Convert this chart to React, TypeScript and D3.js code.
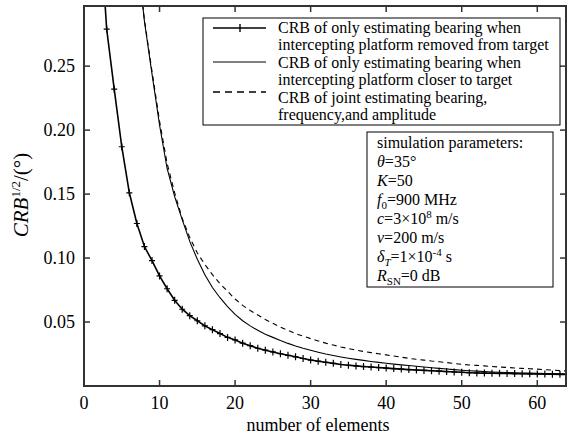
import * as d3 from "d3";

// axes
const xTicks = [0, 10, 20, 30, 40, 50, 60];
const yTicks = [0.05, 0.1, 0.15, 0.2, 0.25];
const yTickLabels = ["0.05", "0.10", "0.15", "0.20", "0.25"];

// CRB^(1/2) per number of elements, first value belongs to N = *Start
const removedStart = 2;
const removedCrb = [
  0.37, 0.279, 0.232, 0.187, 0.151, 0.127, 0.109, 0.098, 0.086, 0.076,
  0.067, 0.06, 0.055, 0.051, 0.047, 0.044, 0.041, 0.038, 0.036, 0.0335,
  0.0315, 0.0295, 0.028, 0.0266, 0.0252, 0.024, 0.0228, 0.0215, 0.0203, 0.0194,
  0.0185, 0.0177, 0.0168, 0.0162, 0.0157, 0.0152, 0.0148, 0.0144, 0.014, 0.0136,
  0.0132, 0.0128, 0.0125, 0.0122, 0.0119, 0.0116, 0.0113, 0.011, 0.0107, 0.0104,
  0.0102, 0.0101, 0.01, 0.0099, 0.0098, 0.0097, 0.0096, 0.0095, 0.0094, 0.0093,
  0.0092, 0.0091, 0.009,
];

const closerStart = 7;
const closerCrb = [
  0.34, 0.285, 0.244, 0.204, 0.17, 0.148, 0.13, 0.113, 0.099, 0.087,
  0.077, 0.069, 0.062, 0.056, 0.051, 0.047, 0.0435, 0.0405, 0.038, 0.0355,
  0.0333, 0.0313, 0.0295, 0.0279, 0.0264, 0.025, 0.0238, 0.0227, 0.0217, 0.0208,
  0.02, 0.0192, 0.0185, 0.0178, 0.0171, 0.0165, 0.016, 0.0154, 0.0148, 0.0143,
  0.0138, 0.0133, 0.0128, 0.0123, 0.0119, 0.0116, 0.0113, 0.011, 0.0108, 0.0106,
  0.0104, 0.0102, 0.0101, 0.0099, 0.0098, 0.0097, 0.0096, 0.0095,
];

const jointStart = 7;
const jointCrb = [
  0.34, 0.286, 0.246, 0.207, 0.174, 0.151, 0.131, 0.116, 0.104, 0.095,
  0.087, 0.08, 0.074, 0.068, 0.063, 0.059, 0.0555, 0.052, 0.049, 0.046,
  0.0435, 0.041, 0.039, 0.037, 0.0352, 0.0335, 0.032, 0.0305, 0.0293, 0.0281,
  0.027, 0.0261, 0.0252, 0.0243, 0.0234, 0.0225, 0.0216, 0.0209, 0.0202, 0.0195,
  0.019, 0.0183, 0.0176, 0.017, 0.0164, 0.0161, 0.0157, 0.0152, 0.0148, 0.0145,
  0.0141, 0.0138, 0.0135, 0.0132, 0.0128, 0.0124, 0.012, 0.0117,
];

const legendText = [
  ["CRB of only estimating bearing when", "intercepting platform removed from target"],
  ["CRB of only estimating bearing when", "intercepting platform closer to target"],
  ["CRB of joint estimating bearing,", "frequency,and amplitude"],
];

const W = 568;
const H = 434;
const m = { left: 84, right: 566, top: 6, bottom: 386 };
const FONT = "'Liberation Serif', 'Times New Roman', Times, serif";

type Pt = { n: number; v: number };

function toPoints(start: number, vals: number[]): Pt[] {
  return vals.map((v, i) => ({ n: start + i, v }));
}

export default function App() {
  const x = d3.scaleLinear().domain([0, 63.8]).range([m.left, m.right]);
  const y = d3.scaleLinear().domain([0, 0.297]).range([m.bottom, m.top]);

  const line = d3
    .line<Pt>()
    .x((d) => x(d.n))
    .y((d) => y(d.v));

  const removed = toPoints(removedStart, removedCrb);
  const closer = toPoints(closerStart, closerCrb);
  const joint = toPoints(jointStart, jointCrb);

  const plus = (cx: number, cy: number) =>
    `M${cx - 3},${cy}H${cx + 3}M${cx},${cy - 3.5}V${cy + 3.5}`;

  // legend box
  const lg = { x: 203, y: 18, w: 357, h: 107 };
  const lineH = 17.4;
  const sampleY = [28, 62, 92];

  // parameters box
  const pb = { x: 367, y: 132, w: 186, h: 155 };
  const pStep = 19;
  // subscript / superscript followed by the rest of the line
  const sub = (t: string, rest: string, italic = false) => (
    <>
      <tspan dy={4} fontSize={11} fontStyle={italic ? "italic" : "normal"}>
        {t}
      </tspan>
      <tspan dy={-4}>{rest}</tspan>
    </>
  );
  const sup = (t: string, rest: string) => (
    <>
      <tspan dy={-6} fontSize={11}>
        {t}
      </tspan>
      <tspan dy={6}>{rest}</tspan>
    </>
  );

  return (
    <svg
      width={W}
      height={H}
      style={{ position: "absolute", left: 0, top: 0, background: "#fff", fontFamily: FONT }}
    >
      <defs>
        <clipPath id="plot">
          <rect x={m.left} y={m.top} width={m.right - m.left} height={m.bottom - m.top} />
        </clipPath>
      </defs>

      {/* curves */}
      <g clipPath="url(#plot)" fill="none" stroke="#000">
        <path d={line(joint) ?? ""} strokeWidth={1.1} strokeDasharray="5,4" />
        <path d={line(closer) ?? ""} strokeWidth={1.1} />
        <path d={line(removed) ?? ""} strokeWidth={1.6} />
        <path
          d={removed.map((d) => plus(x(d.n), y(d.v))).join("")}
          strokeWidth={1.2}
        />
      </g>

      {/* frame */}
      <rect
        x={m.left}
        y={m.top}
        width={m.right - m.left}
        height={m.bottom - m.top}
        fill="none"
        stroke="#333"
        strokeWidth={2}
      />

      {/* ticks */}
      <g stroke="#333" strokeWidth={1.5}>
        {xTicks.slice(1).map((t) => (
          <g key={"xt" + t}>
            <line x1={x(t)} x2={x(t)} y1={m.bottom} y2={m.bottom - 6} />
            <line x1={x(t)} x2={x(t)} y1={m.top} y2={m.top + 6} />
          </g>
        ))}
        {yTicks.map((t) => (
          <g key={"yt" + t}>
            <line x1={m.left} x2={m.left + 6} y1={y(t)} y2={y(t)} />
            <line x1={m.right} x2={m.right - 6} y1={y(t)} y2={y(t)} />
          </g>
        ))}
      </g>

      {/* tick labels */}
      <g fontSize={18} fill="#000">
        {xTicks.map((t) => (
          <text key={"xl" + t} x={x(t)} y={m.bottom + 23} textAnchor="middle">
            {t}
          </text>
        ))}
        {yTicks.map((t, i) => (
          <text key={"yl" + t} x={m.left - 9} y={y(t) + 6} textAnchor="end">
            {yTickLabels[i]}
          </text>
        ))}
      </g>

      {/* axis titles */}
      <text x={318} y={431} fontSize={18} textAnchor="middle">
        number of elements
      </text>
      <text transform="translate(28,195) rotate(-90)" fontSize={21} textAnchor="middle">
        <tspan fontStyle="italic">CRB</tspan>
        <tspan dy={-8} fontSize={13}>
          1/2
        </tspan>
        <tspan dy={8}>/(°)</tspan>
      </text>

      {/* legend */}
      <rect x={lg.x} y={lg.y} width={lg.w} height={lg.h} fill="#fff" stroke="#000" strokeWidth={1} />
      <g stroke="#000" fill="none">
        <line x1={213} x2={266} y1={sampleY[0]} y2={sampleY[0]} strokeWidth={1.6} />
        <path d={`M240,${sampleY[0] - 4}V${sampleY[0] + 4}`} strokeWidth={1.4} />
        <line x1={213} x2={266} y1={sampleY[1]} y2={sampleY[1]} strokeWidth={1.2} />
        <line x1={213} x2={266} y1={sampleY[2]} y2={sampleY[2]} strokeWidth={1.4} strokeDasharray="7,5" />
      </g>
      <g fontSize={16} fill="#000">
        {legendText.map((pair, i) =>
          pair.map((s, j) => (
            <text key={`lt${i}${j}`} x={278} y={33 + (i * 2 + j) * lineH}>
              {s}
            </text>
          ))
        )}
      </g>

      {/* simulation parameters */}
      <rect x={pb.x} y={pb.y} width={pb.w} height={pb.h} fill="#fff" stroke="#000" strokeWidth={1} />
      <g fontSize={16} fill="#000">
        <text x={377} y={148}>simulation parameters:</text>
        <text x={377} y={148 + pStep}>
          <tspan fontStyle="italic">θ</tspan>=35°
        </text>
        <text x={377} y={148 + pStep * 2}>
          <tspan fontStyle="italic">K</tspan>=50
        </text>
        <text x={377} y={148 + pStep * 3}>
          <tspan fontStyle="italic">f</tspan>
          {sub("0", "=900 MHz")}
        </text>
        <text x={377} y={148 + pStep * 4}>
          <tspan fontStyle="italic">c</tspan>=3×10{sup("8", " m/s")}
        </text>
        <text x={377} y={148 + pStep * 5}>
          <tspan fontStyle="italic">v</tspan>=200 m/s
        </text>
        <text x={377} y={148 + pStep * 6}>
          <tspan fontStyle="italic">δ</tspan>
          {sub("T", "=1×10", true)}
          {sup("-4", " s")}
        </text>
        <text x={377} y={148 + pStep * 7}>
          <tspan fontStyle="italic">R</tspan>
          {sub("SN", "=0 dB")}
        </text>
      </g>
    </svg>
  );
}
